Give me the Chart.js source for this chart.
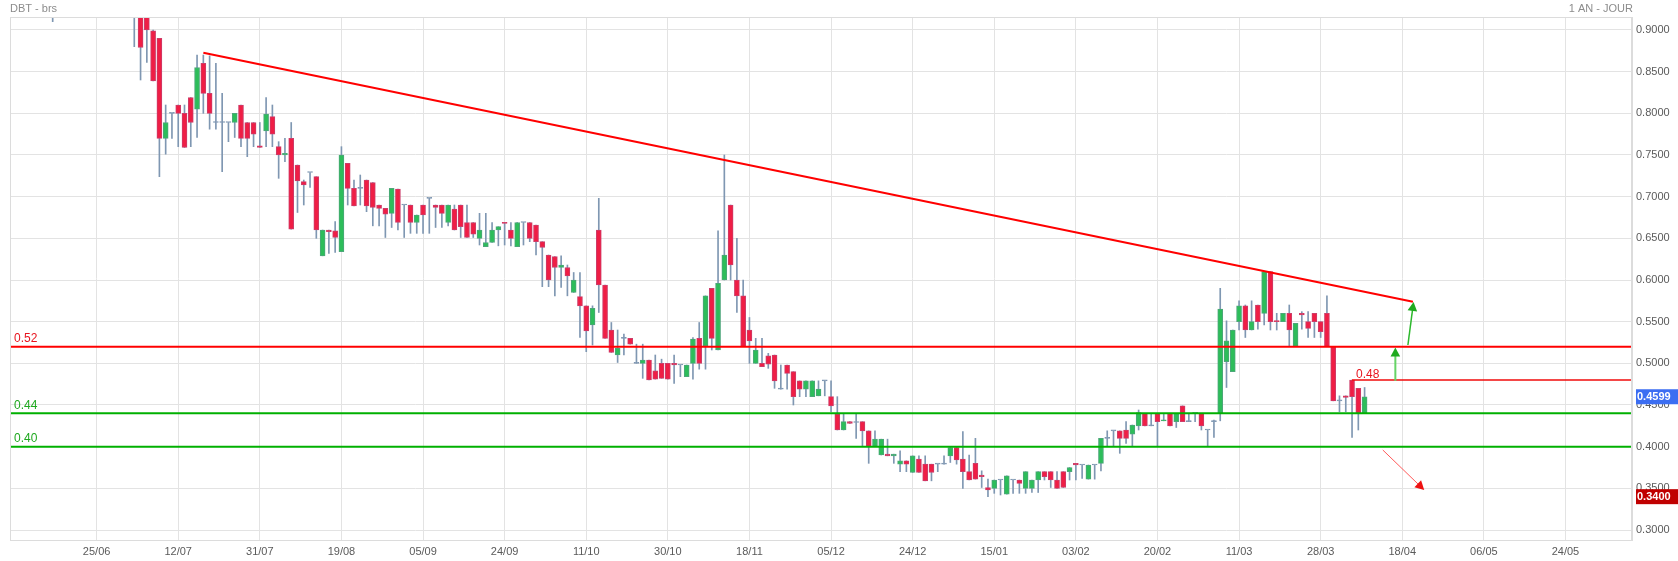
<!DOCTYPE html>
<html>
<head>
<meta charset="utf-8">
<script src="https://cdn.jsdelivr.net/npm/chart.js@4.4.1/dist/chart.umd.min.js"></script>
<style>
html, body { margin: 0; padding: 0; background: #fff; }
#wrap { width: 1678px; height: 561px; }
</style>
</head>
<body>
<div id="wrap"><canvas id="chart" width="1678" height="561"></canvas></div>
<script>
// trading-day index of the first entry (0 = 25/06)
const firstDay = -7;

// one entry per trading day, null = not visible on the picture
const opens = [0.95, null, null, null, null, null, null, null, null, null, null, null, null,
  0.93, 0.93, 0.92, 0.899, 0.89, 0.77, 0.80, 0.81, 0.80, 0.819,
  0.805, 0.86, 0.824, 0.789, 0.789, 0.789, 0.789, 0.81, 0.789, 0.789,
  0.761, 0.779, 0.796, 0.76, 0.75, 0.77, 0.738, 0.718, 0.729, 0.724,
  0.629, 0.66, 0.659, 0.634, 0.74, 0.71, 0.71, 0.72, 0.717, 0.69,
  0.686, 0.68, 0.709, 0.69, 0.69, 0.669, 0.69, 0.698, 0.69, 0.69,
  0.669, 0.685, 0.69, 0.669, 0.669, 0.65, 0.64, 0.645, 0.66, 0.669,
  0.66, 0.64, 0.669, 0.669, 0.666, 0.646, 0.63, 0.628, 0.615, 0.615,
  0.585, 0.58, 0.569, 0.546, 0.66, 0.594, 0.54, 0.51, 0.53, 0.53,
  0.50, 0.50, 0.504, 0.491, 0.50, 0.50, 0.50, 0.498, 0.484, 0.50,
  0.53, 0.521, 0.59, 0.516, 0.60, 0.69, 0.60, 0.581, 0.54, 0.50,
  0.50, 0.509, 0.51, 0.469, 0.498, 0.49, 0.479, 0.469, 0.46, 0.461,
  0.479, 0.46, 0.439, 0.42, 0.43, 0.429, 0.43, 0.419, 0.40, 0.39,
  0.391, 0.389, 0.379, 0.383, 0.369, 0.385, 0.379, 0.379, 0.379, 0.379,
  0.389, 0.399, 0.385, 0.37, 0.38, 0.366, 0.351, 0.35, 0.36, 0.343,
  0.36, 0.36, 0.35, 0.35, 0.36, 0.37, 0.37, 0.36, 0.37, 0.37,
  0.38, 0.378, 0.361, 0.378, 0.38, 0.41, 0.419, 0.419, 0.42, 0.415,
  0.425, 0.44, 0.425, 0.44, 0.431, 0.44, 0.43, 0.449, 0.43, 0.44,
  0.44, 0.42, 0.43, 0.44, 0.502, 0.49, 0.55, 0.569, 0.54, 0.57,
  0.56, 0.61, 0.551, 0.55, 0.56, 0.52, 0.56, 0.55, 0.56, 0.55,
  0.56, 0.52, 0.455, 0.461, 0.48, 0.47, 0.44];

const highs = [0.96, null, null, null, null, null, null, null, null, null, null, null, null,
  0.95, 0.94, 0.925, 0.90, 0.89, 0.81, 0.80, 0.81, 0.81, 0.819,
  0.87, 0.87, 0.869, 0.86, 0.824, 0.789, 0.80, 0.81, 0.789, 0.789,
  0.789, 0.819, 0.81, 0.766, 0.77, 0.789, 0.738, 0.72, 0.729, 0.724,
  0.66, 0.66, 0.67, 0.76, 0.74, 0.72, 0.726, 0.72, 0.717, 0.69,
  0.686, 0.71, 0.709, 0.69, 0.69, 0.678, 0.69, 0.698, 0.69, 0.69,
  0.69, 0.69, 0.69, 0.69, 0.669, 0.68, 0.68, 0.669, 0.664, 0.669,
  0.669, 0.669, 0.669, 0.669, 0.666, 0.646, 0.63, 0.628, 0.629, 0.618,
  0.609, 0.609, 0.569, 0.569, 0.698, 0.594, 0.549, 0.54, 0.535, 0.53,
  0.523, 0.523, 0.504, 0.51, 0.505, 0.50, 0.51, 0.498, 0.498, 0.531,
  0.549, 0.581, 0.59, 0.659, 0.75, 0.69, 0.65, 0.60, 0.555, 0.53,
  0.53, 0.512, 0.51, 0.498, 0.498, 0.49, 0.479, 0.479, 0.479, 0.479,
  0.479, 0.479, 0.46, 0.439, 0.43, 0.439, 0.43, 0.419, 0.419, 0.409,
  0.409, 0.391, 0.395, 0.383, 0.389, 0.389, 0.389, 0.379, 0.379, 0.389,
  0.399, 0.40, 0.418, 0.39, 0.41, 0.371, 0.361, 0.36, 0.36, 0.365,
  0.36, 0.36, 0.37, 0.36, 0.37, 0.37, 0.37, 0.37, 0.37, 0.375,
  0.38, 0.378, 0.378, 0.378, 0.41, 0.419, 0.419, 0.419, 0.43, 0.426,
  0.444, 0.44, 0.44, 0.44, 0.44, 0.44, 0.44, 0.449, 0.44, 0.44,
  0.44, 0.42, 0.432, 0.59, 0.551, 0.54, 0.575, 0.57, 0.575, 0.57,
  0.61, 0.61, 0.56, 0.56, 0.57, 0.548, 0.562, 0.562, 0.56, 0.55,
  0.581, 0.52, 0.461, 0.461, 0.48, 0.47, 0.471];

const lows = [0.91, null, null, null, null, null, null, null, null, null, null, null, null,
  0.88, 0.84, 0.861, 0.839, 0.724, 0.751, 0.77, 0.76, 0.759, 0.76,
  0.771, 0.80, 0.781, 0.781, 0.73, 0.766, 0.771, 0.76, 0.748, 0.76,
  0.759, 0.76, 0.76, 0.722, 0.742, 0.661, 0.681, 0.69, 0.711, 0.65,
  0.629, 0.632, 0.633, 0.634, 0.69, 0.689, 0.69, 0.682, 0.665, 0.665,
  0.651, 0.663, 0.66, 0.651, 0.656, 0.656, 0.656, 0.656, 0.663, 0.663,
  0.665, 0.66, 0.651, 0.651, 0.651, 0.642, 0.64, 0.645, 0.641, 0.642,
  0.641, 0.64, 0.642, 0.646, 0.63, 0.592, 0.592, 0.581, 0.591, 0.581,
  0.585, 0.531, 0.514, 0.522, 0.561, 0.53, 0.513, 0.501, 0.51, 0.523,
  0.50, 0.482, 0.48, 0.481, 0.482, 0.481, 0.476, 0.484, 0.484, 0.481,
  0.493, 0.493, 0.516, 0.516, 0.60, 0.60, 0.561, 0.52, 0.50, 0.50,
  0.496, 0.494, 0.47, 0.469, 0.469, 0.45, 0.46, 0.46, 0.46, 0.461,
  0.461, 0.442, 0.42, 0.42, 0.428, 0.41, 0.40, 0.38, 0.40, 0.39,
  0.389, 0.38, 0.37, 0.37, 0.369, 0.369, 0.359, 0.359, 0.37, 0.379,
  0.381, 0.379, 0.35, 0.36, 0.361, 0.351, 0.34, 0.344, 0.342, 0.343,
  0.344, 0.344, 0.344, 0.345, 0.345, 0.36, 0.351, 0.35, 0.351, 0.36,
  0.36, 0.362, 0.361, 0.361, 0.371, 0.40, 0.40, 0.392, 0.404, 0.40,
  0.42, 0.425, 0.425, 0.40, 0.431, 0.425, 0.423, 0.43, 0.43, 0.43,
  0.42, 0.401, 0.411, 0.431, 0.471, 0.49, 0.54, 0.531, 0.54, 0.541,
  0.546, 0.54, 0.54, 0.55, 0.52, 0.52, 0.541, 0.531, 0.531, 0.531,
  0.52, 0.455, 0.442, 0.442, 0.411, 0.42, 0.44];

const closes = [0.94, null, null, null, null, null, null, null, null, null, null, null, null,
  0.92, 0.879, 0.90, 0.839, 0.77, 0.789, 0.80, 0.80, 0.759, 0.789,
  0.855, 0.824, 0.80, 0.789, 0.789, 0.789, 0.80, 0.77, 0.77, 0.775,
  0.759, 0.799, 0.775, 0.75, 0.752, 0.661, 0.719, 0.714, 0.729, 0.66,
  0.66, 0.658, 0.651, 0.75, 0.71, 0.689, 0.71, 0.689, 0.687, 0.686,
  0.679, 0.71, 0.669, 0.69, 0.669, 0.678, 0.678, 0.698, 0.687, 0.68,
  0.69, 0.66, 0.664, 0.651, 0.655, 0.66, 0.645, 0.66, 0.664, 0.668,
  0.65, 0.669, 0.669, 0.65, 0.646, 0.639, 0.60, 0.615, 0.618, 0.605,
  0.60, 0.569, 0.539, 0.566, 0.594, 0.53, 0.513, 0.518, 0.53, 0.523,
  0.50, 0.504, 0.48, 0.481, 0.482, 0.481, 0.498, 0.498, 0.498, 0.529,
  0.50, 0.581, 0.53, 0.596, 0.63, 0.618, 0.581, 0.52, 0.527, 0.516,
  0.496, 0.499, 0.479, 0.469, 0.488, 0.46, 0.469, 0.479, 0.479, 0.469,
  0.479, 0.449, 0.42, 0.43, 0.428, 0.429, 0.419, 0.40, 0.409, 0.409,
  0.389, 0.391, 0.383, 0.379, 0.389, 0.369, 0.359, 0.369, 0.379, 0.379,
  0.399, 0.384, 0.37, 0.36, 0.361, 0.364, 0.348, 0.36, 0.36, 0.365,
  0.36, 0.356, 0.37, 0.36, 0.37, 0.364, 0.36, 0.35, 0.351, 0.375,
  0.378, 0.378, 0.378, 0.378, 0.41, 0.41, 0.419, 0.41, 0.41, 0.426,
  0.441, 0.425, 0.425, 0.43, 0.432, 0.425, 0.44, 0.43, 0.43, 0.44,
  0.425, 0.42, 0.43, 0.565, 0.527, 0.54, 0.569, 0.54, 0.55, 0.55,
  0.61, 0.55, 0.55, 0.56, 0.54, 0.548, 0.558, 0.542, 0.55, 0.538,
  0.52, 0.455, 0.455, 0.459, 0.46, 0.44, 0.4599];

// axis labels, one every 13 trading days
const xLabels = ['25/06', '12/07', '31/07', '19/08', '05/09', '24/09', '11/10', '30/10', '18/11', '05/12',
  '24/12', '15/01', '03/02', '20/02', '11/03', '28/03', '18/04', '06/05', '24/05'];
const labelStep = 13;
const yTicks = [0.30, 0.35, 0.40, 0.45, 0.50, 0.55, 0.60, 0.65, 0.70, 0.75, 0.80, 0.85, 0.90];

// drawn levels and annotations (in day / price units)
const redLevel = 0.52;
const greenLevels = [0.44, 0.40];
const target = { from: 200, value: 0.48 };
const trendLine = [{ x: 17, y: 0.8728 }, { x: 209.7, y: 0.574 }];
const upArrow = [{ x: 206.9, y: 0.479 }, { x: 206.9, y: 0.519 }];
const slantArrow = [{ x: 208.9, y: 0.522 }, { x: 209.8, y: 0.5736 }];
const downArrow = [{ x: 204.9, y: 0.396 }, { x: 211.5, y: 0.348 }];
const lastPrice = 0.4599;
const lowPrice = 0.34;

const xMin = -13.8, xMax = 244.6;
const yMin = 0.288, yMax = 0.9156;

const RED = '#ff0000';
const GREEN = '#00b000';
const WICK = '#7f97b2';

const bodies = [], wicks = [], fills = [], edges = [];
opens.forEach((o, k) => {
    if (o === null) return;
    const day = firstDay + k;
    const c = closes[k];
    bodies.push({ x: day, y: [o, c] });
    wicks.push({ x: day, y: [lows[k], highs[k]] });
    if (c > o) { fills.push('#2dbd5a'); edges.push('#4da67a'); }
    else if (c < o) { fills.push('#ef1e45'); edges.push('#cc3d6a'); }
    else { fills.push(WICK); edges.push(WICK); }
});

function hLine(value, from, color, width) {
    return {
        type: 'line', data: [{ x: from, y: value }, { x: xMax, y: value }],
        borderColor: color, borderWidth: width, pointRadius: 0, fill: false, order: 0
    };
}

function arrowHead(ctx, fx, fy, tx, ty, color) {
    const a = Math.atan2(ty - fy, tx - fx);
    const len = 9, half = 4.8;
    ctx.save();
    ctx.fillStyle = color;
    ctx.beginPath();
    ctx.moveTo(tx, ty);
    ctx.lineTo(tx - len * Math.cos(a) + half * Math.sin(a), ty - len * Math.sin(a) - half * Math.cos(a));
    ctx.lineTo(tx - len * Math.cos(a) - half * Math.sin(a), ty - len * Math.sin(a) + half * Math.cos(a));
    ctx.closePath();
    ctx.fill();
    ctx.restore();
}

function arrow(chart, pts, lineColor, headColor, width) {
    const { ctx, scales: { x, y } } = chart;
    const fx = x.getPixelForValue(pts[0].x), fy = y.getPixelForValue(pts[0].y);
    const tx = x.getPixelForValue(pts[1].x), ty = y.getPixelForValue(pts[1].y);
    const a = Math.atan2(ty - fy, tx - fx);
    ctx.save();
    ctx.strokeStyle = lineColor;
    ctx.lineWidth = width;
    ctx.beginPath();
    ctx.moveTo(fx, fy);
    ctx.lineTo(tx - 8 * Math.cos(a), ty - 8 * Math.sin(a));
    ctx.stroke();
    ctx.restore();
    arrowHead(ctx, fx, fy, tx, ty, headColor);
}

const overlay = {
    id: 'overlay',
    afterDatasetsDraw(chart) {
        const { ctx, chartArea, scales: { x, y } } = chart;
        arrow(chart, upArrow, '#66d466', '#1faa1f', 2);
        arrow(chart, slantArrow, '#2db82d', '#1faa1f', 1.5);
        arrow(chart, downArrow, '#ff5a5a', '#ee1111', 1);

        ctx.save();
        ctx.font = "12px 'Liberation Sans', Arial, sans-serif";
        ctx.textAlign = 'left';
        ctx.textBaseline = 'alphabetic';
        ctx.fillStyle = '#e8141e';
        ctx.fillText(redLevel.toFixed(2), chartArea.left + 4, y.getPixelForValue(redLevel) - 4.5);
        ctx.fillStyle = '#1fa81f';
        greenLevels.forEach(v => ctx.fillText(v.toFixed(2), chartArea.left + 4, y.getPixelForValue(v) - 4.5));
        ctx.fillStyle = '#e8141e';
        ctx.fillText(target.value.toFixed(2), x.getPixelForValue(target.from) + 4, y.getPixelForValue(target.value) - 2);
        ctx.restore();
    },
    afterDraw(chart) {
        const { ctx, chartArea, scales: { y } } = chart;
        ctx.save();
        ctx.strokeStyle = '#dcdcdc';
        ctx.lineWidth = 1;
        ctx.strokeRect(Math.round(chartArea.left) + 0.5, Math.round(chartArea.top) + 0.5,
            Math.round(chartArea.right - chartArea.left) - 1, Math.round(chartArea.bottom - chartArea.top));

        ctx.font = "11px 'Liberation Sans', Arial, sans-serif";
        ctx.fillStyle = '#8c8c8c';
        ctx.textBaseline = 'middle';
        ctx.textAlign = 'left';
        ctx.fillText('DBT - brs', 10, 9);
        ctx.textAlign = 'right';
        ctx.fillText('1 AN - JOUR', chartArea.right + 1, 9);

        const boxes = [[lastPrice, '#3c6ef2'], [lowPrice, '#c00000']];
        ctx.font = "bold 11px 'Liberation Sans', Arial, sans-serif";
        ctx.textAlign = 'left';
        boxes.forEach(([v, color]) => {
            const py = y.getPixelForValue(v);
            ctx.fillStyle = color;
            ctx.fillRect(chartArea.right + 4, py - 7.5, 1678 - chartArea.right - 4, 15);
            ctx.fillStyle = '#ffffff';
            ctx.fillText(v.toFixed(4), chartArea.right + 5, py + 0.5);
        });
        ctx.restore();
    }
};

Chart.defaults.font.family = "'Liberation Sans', Arial, sans-serif";

new Chart(document.getElementById('chart'), {
    type: 'bar',
    data: {
        datasets: [
            {
                data: wicks, backgroundColor: WICK, barThickness: 1, grouped: false, order: 3
            },
            {
                data: bodies, backgroundColor: fills, borderColor: edges, borderWidth: 1,
                borderSkipped: false, barThickness: 5, minBarLength: 1, grouped: false, order: 2
            },
            hLine(redLevel, xMin, RED, 2),
            hLine(greenLevels[0], xMin, GREEN, 2),
            hLine(greenLevels[1], xMin, GREEN, 2),
            hLine(target.value, target.from, '#f00a0a', 1.4),
            {
                type: 'line', data: trendLine, borderColor: RED, borderWidth: 2,
                pointRadius: 0, fill: false, order: 0
            }
        ]
    },
    options: {
        responsive: false,
        animation: false,
        devicePixelRatio: 1,
        events: [],
        layout: { padding: { left: 10, top: 17, right: 0, bottom: 0 } },
        plugins: { legend: { display: false }, tooltip: { enabled: false }, title: { display: false } },
        scales: {
            x: {
                type: 'linear', min: xMin, max: xMax, offset: false,
                grid: { color: '#e3e3e3', drawTicks: false, offset: false },
                border: { display: true, color: '#dcdcdc' },
                afterBuildTicks: s => { s.ticks = xLabels.map((_, k) => ({ value: k * labelStep })); },
                afterFit: s => { s.height = 21; },
                ticks: {
                    padding: 5, maxRotation: 0, autoSkip: false, color: '#5a5a5a', font: { size: 11 },
                    callback: (v, i) => xLabels[i]
                }
            },
            y: {
                type: 'linear', position: 'right', min: yMin, max: yMax,
                grid: { color: '#e3e3e3', drawTicks: false },
                border: { display: true, color: '#dcdcdc' },
                afterBuildTicks: s => { s.ticks = yTicks.map(v => ({ value: v })); },
                afterFit: s => { s.width = 46; },
                ticks: {
                    padding: 4, color: '#5a5a5a', font: { size: 11 },
                    callback: v => v.toFixed(4)
                }
            }
        }
    },
    plugins: [overlay]
});
</script>
</body>
</html>
